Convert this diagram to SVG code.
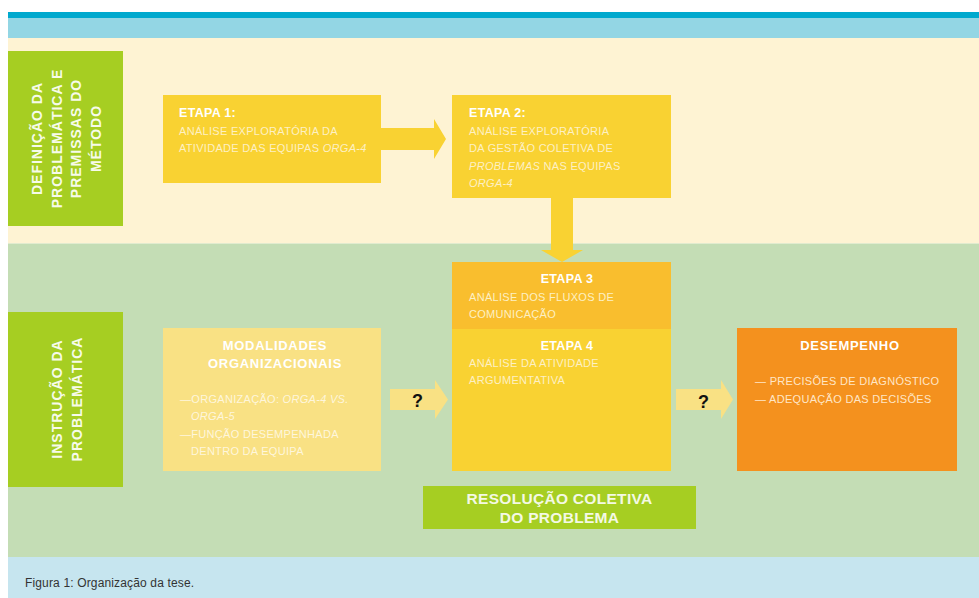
<svg xmlns="http://www.w3.org/2000/svg" width="979" height="598" viewBox="0 0 979 598">
<style>
text{font-family:"Liberation Sans",Arial,sans-serif}
.side{font-size:14px;font-weight:bold;fill:#F7FBEA;letter-spacing:1px;text-anchor:middle}
.hd{font-size:12.5px;font-weight:bold;fill:#FFFFFF;letter-spacing:0.3px}
.bd{font-size:11px;fill:#FDF0C4;letter-spacing:0.3px}
.it{font-style:italic}
.mhd{font-size:13px;font-weight:bold;fill:#FFFFFF;letter-spacing:0.7px;text-anchor:middle}
.mbd{font-size:11px;fill:#FEF6DC;letter-spacing:0.3px}
.dbd{font-size:11px;fill:#FFE6C6;letter-spacing:0.3px}
.q{font-size:18px;font-weight:bold;fill:#111111;text-anchor:middle}
.yl{fill:#F9D232}
.lq{fill:#F9E184}
</style>
<!-- background bands -->
<rect x="8" y="12" width="971" height="6" fill="#00A9CE"/>
<rect x="8" y="18" width="971" height="20" fill="#93D6E4"/>
<rect x="8" y="38" width="971" height="205.5" fill="#FEF3D3"/>
<rect x="8" y="243.5" width="971" height="313.5" fill="#C4DDB5"/>
<rect x="8" y="557" width="971" height="41" fill="#C6E5EF"/>

<g id="connectors">
<polygon class="yl" points="381,128 434,128 434,119 446,139 434,159 434,150 381,150"/>
<polygon class="yl" points="551,198 573,198 573,250 583,250 562,262 541,250 551,250"/>
<polygon class="lq" points="390,389 435,389 435,380 448,399.5 435,419 435,410 390,410"/>
<polygon class="lq" points="676,389 721,389 721,380 733,399.5 721,419 721,410 676,410"/>
<text class="q" x="417.5" y="407">?</text>
<text class="q" x="703.5" y="408">?</text>
</g>

<g id="side-definicao">
<rect x="8" y="51" width="115" height="175" fill="#A6CE22"/>
<text class="side" transform="translate(42,138.5) rotate(-90)">DEFINIÇÃO DA</text>
<text class="side" transform="translate(61.5,138.5) rotate(-90)">PROBLEMÁTICA E</text>
<text class="side" transform="translate(81,138.5) rotate(-90)">PREMISSAS DO</text>
<text class="side" transform="translate(100.5,138.5) rotate(-90)">MÉTODO</text>
</g>

<g id="side-instrucao">
<rect x="8" y="312" width="115" height="175" fill="#A6CE22"/>
<text class="side" transform="translate(61.5,399) rotate(-90)">INSTRUÇÃO DA</text>
<text class="side" transform="translate(81.5,399) rotate(-90)">PROBLEMÁTICA</text>
</g>

<g id="etapa1">
<rect class="yl" x="163" y="95" width="218" height="88"/>
<text class="hd" x="179" y="117">ETAPA 1:</text>
<text class="bd" x="179" y="135">ANÁLISE EXPLORATÓRIA DA</text>
<text class="bd" x="179" y="152">ATIVIDADE DAS EQUIPAS <tspan class="it">ORGA-4</tspan></text>
</g>

<g id="etapa2">
<rect class="yl" x="452" y="95" width="219" height="103"/>
<text class="hd" x="469" y="117">ETAPA 2:</text>
<text class="bd" x="469" y="135">ANÁLISE EXPLORATÓRIA</text>
<text class="bd" x="469" y="152">DA GESTÃO COLETIVA DE</text>
<text class="bd" x="469" y="170"><tspan class="it">PROBLEMAS</tspan> NAS EQUIPAS</text>
<text class="bd it" x="469" y="187">ORGA-4</text>
</g>

<g id="etapa3">
<rect x="452" y="262" width="219" height="67" fill="#F9BE2E"/>
<text class="hd" x="567" y="283" text-anchor="middle">ETAPA 3</text>
<text class="bd" x="469" y="301">ANÁLISE DOS FLUXOS DE</text>
<text class="bd" x="469" y="318">COMUNICAÇÃO</text>
</g>

<g id="etapa4">
<rect class="yl" x="452" y="329" width="219" height="142"/>
<text class="hd" x="567" y="350" text-anchor="middle">ETAPA 4</text>
<text class="bd" x="469" y="367">ANÁLISE DA ATIVIDADE</text>
<text class="bd" x="469" y="384">ARGUMENTATIVA</text>
</g>

<g id="modalidades">
<rect class="lq" x="163" y="328" width="218" height="143"/>
<text class="mhd" x="275" y="350">MODALIDADES</text>
<text class="mhd" x="275" y="368">ORGANIZACIONAIS</text>
<text class="mbd" x="180" y="403">—ORGANIZAÇÃO: <tspan class="it">ORGA-4 VS.</tspan></text>
<text class="mbd it" x="191" y="420">ORGA-5</text>
<text class="mbd" x="180" y="438">—FUNÇÃO DESEMPENHADA</text>
<text class="mbd" x="191" y="455">DENTRO DA EQUIPA</text>
</g>

<g id="desempenho">
<rect x="737" y="328" width="220" height="143" fill="#F4911E"/>
<text class="mhd" x="850" y="350">DESEMPENHO</text>
<text class="dbd" x="755" y="385">— PRECISÕES DE DIAGNÓSTICO</text>
<text class="dbd" x="755" y="403">— ADEQUAÇÃO DAS DECISÕES</text>
</g>

<g id="resolucao">
<rect x="423" y="486" width="273" height="43" fill="#A6CE22"/>
<text x="559.5" y="504" font-size="15.5" font-weight="bold" fill="#F4F9E4" text-anchor="middle" letter-spacing="0.3">RESOLUÇÃO COLETIVA</text>
<text x="559.5" y="523" font-size="15.5" font-weight="bold" fill="#F4F9E4" text-anchor="middle" letter-spacing="0.3">DO PROBLEMA</text>
</g>

<text x="25" y="587" font-size="12" fill="#333333" letter-spacing="0.15">Figura 1: Organização da tese.</text>
</svg>
